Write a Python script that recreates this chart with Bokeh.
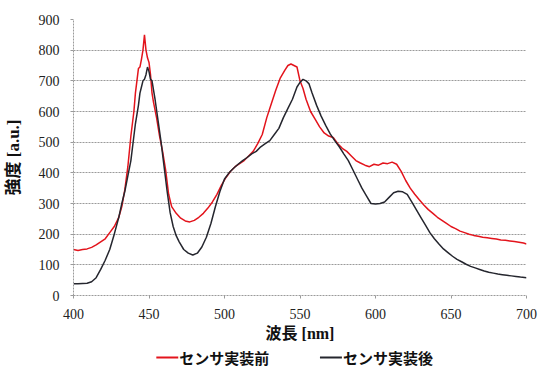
from bokeh.plotting import figure
from bokeh.models import FixedTicker, Range1d
from bokeh.layouts import column
from bokeh.core.properties import value
from bokeh.embed import file_html
from bokeh.resources import INLINE

before_x = [400, 403, 406, 409, 412, 415, 418, 421, 424, 427, 430, 432, 434, 436, 438, 440, 441, 442, 443, 444,
            445, 446, 447, 448, 449, 450, 451, 452, 453, 455, 457, 459, 461, 463, 465, 468, 471, 474, 477, 480,
            483, 486, 489, 492, 495, 498, 501, 504, 507, 510, 513, 516, 519, 522, 525, 528, 531, 534, 537, 540,
            542, 544, 546, 548, 550, 552, 554, 557, 560, 563, 566, 569, 572, 575, 578, 581, 584, 587, 590, 593,
            596, 599, 602, 605, 608, 611, 614, 617, 620, 623, 626, 629, 632, 635, 638, 641, 644, 647, 650, 653,
            656, 659, 662, 665, 668, 671, 674, 677, 680, 683, 686, 689, 692, 695, 698, 700]
before_y = [150, 147, 150, 152, 157, 165, 175, 185, 205, 225, 255, 290, 345, 420, 520, 600, 660, 700, 740, 745,
            770, 800, 850, 800, 775, 760, 720, 660, 630, 580, 520, 470, 410, 330, 290, 268, 252, 243, 240, 245,
            255, 268, 285, 305, 330, 360, 385, 405, 420, 430, 440, 455, 470, 495, 525, 580, 625, 670, 710, 735,
            750, 755, 750, 745, 700, 675, 640, 600, 575, 550, 530, 520, 515, 495, 480, 470, 455, 440, 432, 425,
            420, 428, 425, 432, 430, 435, 428, 405, 375, 350, 330, 312, 295, 280, 268, 255, 245, 235, 225, 218,
            210, 205, 200, 196, 193, 190, 188, 186, 184, 181, 180, 178, 176, 174, 171, 168]

after_x = [400, 403, 406, 409, 412, 415, 418, 421, 424, 427, 430, 432, 434, 436, 438, 440, 441, 442, 443, 444,
           445, 446, 447, 448, 449, 450, 451, 452, 453, 454, 456, 458, 460, 462, 464, 466, 468, 470, 473, 476,
           479, 482, 485, 488, 491, 494, 497, 500, 503, 506, 509, 512, 515, 518, 521, 524, 527, 530, 533, 536,
           539, 542, 545, 548, 550, 552, 554, 556, 558, 561, 564, 567, 570, 573, 576, 579, 582, 585, 588, 591,
           594, 597, 600, 603, 606, 609, 612, 615, 618, 621, 624, 627, 630, 633, 636, 639, 642, 645, 648, 651,
           654, 657, 660, 663, 666, 669, 672, 675, 678, 681, 684, 687, 690, 693, 696, 700]
after_y = [38, 38, 39, 40, 45, 58, 85, 115, 150, 200, 255, 300, 340, 390, 440, 520, 560, 590, 620, 660,
           680, 700, 705, 720, 745, 730, 705, 700, 670, 640, 570, 500, 420, 340, 270, 225, 195, 175, 150, 138,
           132, 138, 158, 190, 235, 290, 340, 380, 400, 415, 428, 440, 450, 462, 470, 485, 495, 505, 525, 545,
           580, 610, 640, 680, 695, 705, 700, 690, 660, 620, 585, 555, 527, 505, 485, 462, 440, 410, 380, 350,
           325, 300, 298, 300, 305, 320, 335, 340, 338, 330, 305, 280, 255, 230, 205, 185, 168, 152, 140, 128,
           118, 110, 102, 95, 90, 85, 80, 76, 73, 70, 68, 66, 64, 62, 60, 58]

x_ticks = [400, 450, 500, 550, 600, 650, 700]
y_ticks = [0, 100, 200, 300, 400, 500, 600, 700, 800, 900]
series_labels = ["センサ実装前", "センサ実装後"]
series_colors = ["#e3141c", "#25262e"]
x_title = "波長 [nm]"
y_title = "強度 [a.u.]"

TITLE_FONT = "'Liberation Serif', 'Noto Sans CJK JP'"

p = figure(width=538, height=344, output_backend="svg", toolbar_location=None,
           x_range=Range1d(400, 700), y_range=Range1d(0, 900),
           min_border_left=72, min_border_right=12, min_border_top=19, min_border_bottom=49)
p.outline_line_color = None
p.background_fill_color = "white"

p.line(before_x, before_y, line_color=series_colors[0], line_width=1.5)
p.line(after_x, after_y, line_color=series_colors[1], line_width=1.5)

for ax in (p.xaxis[0], p.yaxis[0]):
    ax.axis_line_color = "#9a9a9a"
    ax.axis_line_dash = "2 1"
    ax.major_tick_line_color = "#9a9a9a"
    ax.major_tick_out = 3
    ax.major_tick_in = 0
    ax.minor_tick_line_color = None
    ax.major_label_text_font = "Liberation Serif"
    ax.major_label_text_font_size = "14px"
    ax.major_label_text_color = "#222222"
    ax.axis_label_text_font = TITLE_FONT
    ax.axis_label_text_font_style = "bold"
    ax.axis_label_text_color = "#111111"

p.xaxis[0].axis_label_text_font_size = "16px"
p.yaxis[0].axis_label_text_font_size = "17px"
p.xaxis[0].ticker = FixedTicker(ticks=x_ticks)
p.yaxis[0].ticker = FixedTicker(ticks=y_ticks)
p.xaxis[0].axis_label = x_title
p.yaxis[0].axis_label = y_title
p.xaxis[0].major_label_standoff = 10
p.yaxis[0].major_label_standoff = 11
p.xaxis[0].axis_label_standoff = 3
p.yaxis[0].axis_label_standoff = 13

p.xgrid.grid_line_color = None
p.ygrid.grid_line_color = "#9a9a9a"
p.ygrid.grid_line_dash = "2 1"
p.ygrid.ticker = FixedTicker(ticks=y_ticks)

# legend strip below the chart (its frame lines up with the chart's frame, 72..526 px)
lg = figure(width=538, height=27, output_backend="svg", toolbar_location=None,
            x_range=Range1d(72, 526), y_range=Range1d(0, 27),
            x_axis_location=None, y_axis_location=None,
            min_border_left=72, min_border_right=12, min_border_top=0, min_border_bottom=0)
lg.grid.visible = False
lg.outline_line_color = None
item_x = [155, 319]
for xs, lab, col in zip(item_x, series_labels, series_colors):
    lg.segment(x0=[xs], y0=[14], x1=[xs + 22], y1=[14], line_color=col, line_width=2)
    lg.text(x=[xs + 23], y=[14], text=[lab], text_font=value("Noto Sans CJK JP"),
            text_font_size="15px", text_font_style="bold", text_color="#111111",
            text_baseline="middle", text_align="left")

layout = column(p, lg, spacing=0)
open("out.html", "w").write(file_html(layout, INLINE))
